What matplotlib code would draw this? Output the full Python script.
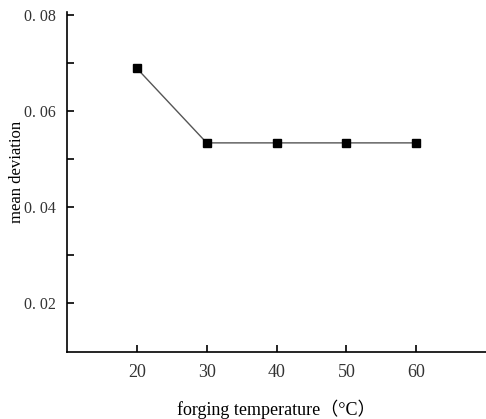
import numpy as np
import matplotlib.pyplot as plt
from matplotlib.ticker import FixedLocator

temperature = [20, 30, 40, 50, 60]
mean_dev = [0.0688, 0.0533, 0.0533, 0.0533, 0.0533]
yticks = [0.02, 0.04, 0.06, 0.08]
ytick_labels = ['0. 02', '0. 04', '0. 06', '0. 08']
yminor = [0.03, 0.05, 0.07]

plt.rcParams['font.family'] = ['Liberation Serif', 'Noto Sans CJK SC']

fig = plt.figure(figsize=(4.86, 4.19), dpi=100)
ax = fig.add_axes([0.138, 0.16, 0.862, 0.811])

ax.plot(temperature, mean_dev, color='#555555', linewidth=1.0,
        marker='s', markersize=6, markerfacecolor='black', markeredgecolor='black')

ax.set_xlim(10, 70)
ax.set_ylim(0.0098, 0.0805)
ax.set_xticks(temperature)
ax.set_yticks(yticks)
ax.set_yticklabels(ytick_labels)
ax.yaxis.set_minor_locator(FixedLocator(yminor))

for s in ['top', 'right']:
    ax.spines[s].set_visible(False)
for s in ['left', 'bottom']:
    ax.spines[s].set_linewidth(1.2)

ax.tick_params(axis='both', which='major', direction='in', length=5, width=1.2,
               labelsize=11.5, colors='black', labelcolor='#333333', pad=8)
ax.tick_params(axis='y', which='minor', direction='in', length=5, width=1.2)
ax.tick_params(axis='x', labelsize=13, pad=9)

ax.set_xlabel('forging temperature（°C）', fontsize=13, labelpad=13)
ax.set_ylabel('mean deviation', fontsize=12)
ax.yaxis.set_label_coords(-0.1, 0.53)

fig.savefig('out.png', dpi=100)
